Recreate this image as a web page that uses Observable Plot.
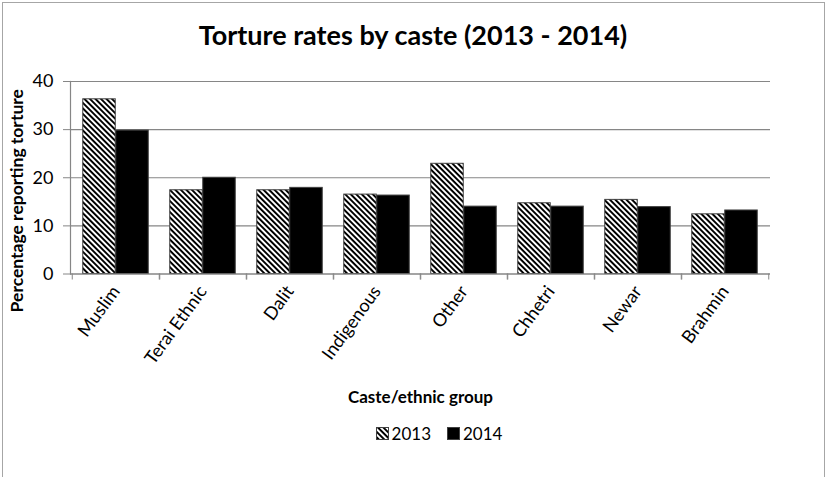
<!DOCTYPE html>
<html>
<head>
<meta charset="utf-8">
<script src="https://cdn.jsdelivr.net/npm/d3@7"></script>
<script src="https://cdn.jsdelivr.net/npm/@observablehq/plot@0.6"></script>
<style>
  html, body { margin: 0; padding: 0; background: #fff; }
  body { font-family: "Lato", sans-serif; }
  #wrap { position: relative; width: 826px; height: 477px; overflow: hidden; }
  #border { position: absolute; left: 2px; top: 2px; width: 823px; height: 500px; border: 1px solid #a6a6a6; box-sizing: border-box; }
  #title { position: absolute; left: 0; top: 0; width: 826px; height: 60px; line-height: 70px; text-align: center; font-size: 27px; font-weight: bold; color: #000; }
  #chart { position: absolute; left: 0; top: 60px; }
  #legend { position: absolute; left: 0; top: 415px; width: 878px; height: 36px; display: flex; justify-content: center; align-items: center; font-size: 17px; color: #000; }
  .item { display: flex; align-items: center; margin: 0 8px; }
  .item svg { margin-right: 3px; }
</style>
</head>
<body>
<div id="wrap">
  <div id="border"></div>
  <div id="title">Torture rates by caste (2013 - 2014)</div>
  <div id="chart"></div>
  <div id="legend"></div>
</div>
<script>
// ---- data ----
const castes = ["Muslim", "Terai Ethnic", "Dalit", "Indigenous", "Other", "Chhetri", "Newar", "Brahmin"];
const years = ["2013", "2014"];
const values2013 = [36.3, 17.4, 17.4, 16.5, 22.9, 14.7, 15.4, 12.4];
const values2014 = [29.8, 20.0, 17.9, 16.3, 14.0, 14.0, 13.9, 13.2];
const yTicks = [0, 10, 20, 30, 40];
const yLabel = "Percentage reporting torture";
const xLabel = "Caste/ethnic group";

const rows2013 = castes.map((c, i) => ({caste: c, year: years[0], value: values2013[i]}));
const rows2014 = castes.map((c, i) => ({caste: c, year: years[1], value: values2014[i]}));

// ---- layout / style ----
const FONT = '"Lato", sans-serif';
const W = 826, H = 355;
const mL = 70, mR = 56, mT = 21, mB = 141.5;
const step = (W - mL - mR) / castes.length;
const barW = 33;
const outer = (step - 2 * barW) / 2;
const GRID = "#868686";
const EDGE = "#404040";

function hatchDefs(id) {
  return `<pattern id="${id}" patternUnits="userSpaceOnUse" width="3.9" height="3.9" patternTransform="rotate(-45)">
    <rect width="3.9" height="3.9" fill="#fff"/>
    <rect x="0" y="0" width="1.95" height="3.9" fill="#000"/>
  </pattern>`;
}

const defsMark = () => {
  const g = document.createElementNS("http://www.w3.org/2000/svg", "defs");
  g.innerHTML = hatchDefs("hatch");
  return g;
};

const chart = Plot.plot({
  width: W,
  height: H,
  marginLeft: mL,
  marginRight: mR,
  marginTop: mT,
  marginBottom: mB,
  style: {fontFamily: FONT, fontSize: "17px", color: "#000", background: "transparent", overflow: "visible"},
  x: {domain: castes, padding: 0},
  y: {domain: [0, 40]},
  marks: [
    defsMark,
    Plot.gridY({ticks: yTicks, stroke: GRID, strokeOpacity: 1, strokeWidth: 1.2}),
    Plot.frame({anchor: "left", stroke: GRID, strokeWidth: 1.2}),
    Plot.barY(rows2013, {x: "caste", y: "value", fill: "url(#hatch)", stroke: EDGE, strokeWidth: 1, insetLeft: outer, insetRight: outer + barW}),
    Plot.barY(rows2014, {x: "caste", y: "value", fill: "#000", stroke: EDGE, strokeWidth: 1, insetLeft: outer + barW, insetRight: outer}),
    Plot.ruleY([0], {stroke: GRID, strokeWidth: 1.2}),
    Plot.axisY({ticks: yTicks, tickSize: 7, tickPadding: 10, stroke: GRID, fill: "#000", fontSize: 18, label: null}),
    Plot.axisX({tickSize: 6, dx: -step / 2, stroke: GRID, fill: "none", label: null}),
    Plot.axisX({tickSize: 6, dx: step / 2, stroke: GRID, fill: "none", label: null}),
    Plot.axisX({tickSize: 0, tickPadding: 14, tickRotate: -54, fill: "#000", fontSize: 18, label: null}),
    Plot.text([yLabel], {frameAnchor: "left", textAnchor: "middle", dx: -53, dy: 23, rotate: -90, fontWeight: "bold", fontSize: 17.5, fill: "#000"}),
    Plot.text([xLabel], {frameAnchor: "bottom", textAnchor: "middle", dy: 129, fontWeight: "bold", fontSize: 17, fill: "#000"})
  ]
});
document.getElementById("chart").appendChild(chart);

// ---- legend ----
const legend = document.getElementById("legend");
legend.innerHTML = `
  <span class="item"><svg width="13" height="13"><defs>${hatchDefs("hatchL")}</defs><rect x="0.5" y="0.5" width="12" height="12" fill="url(#hatchL)" stroke="${EDGE}"/></svg>${years[0]}</span>
  <span class="item"><svg width="13" height="13"><rect x="0.5" y="0.5" width="12" height="12" fill="#000" stroke="${EDGE}"/></svg>${years[1]}</span>`;
</script>
</body>
</html>
